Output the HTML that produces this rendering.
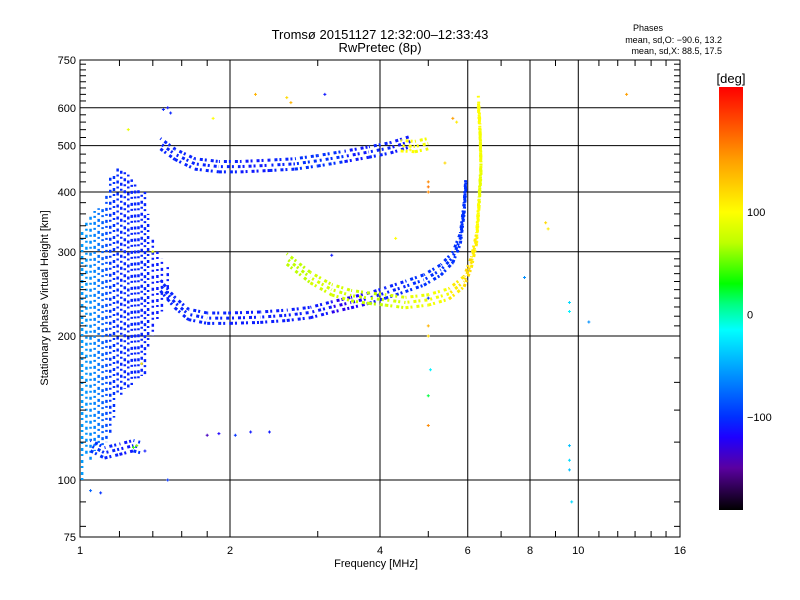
<!DOCTYPE html>
<html><head><meta charset="utf-8"><style>
body{margin:0;background:#fff;}
svg{display:block;font-family:"Liberation Sans",sans-serif;}
</style></head><body>
<svg id="c" width="800" height="600" xmlns="http://www.w3.org/2000/svg">
<rect width="800" height="600" fill="#fff"/>
<text x="380" y="39" font-size="13" text-anchor="middle">Tromsø 20151127 12:32:00–12:33:43</text>
<text x="380" y="52" font-size="13" text-anchor="middle">RwPretec (8p)</text>
<text x="648" y="31" font-size="9" text-anchor="middle">Phases</text>
<text x="722" y="43" font-size="9" text-anchor="end">mean, sd,O: −90.6, 13.2</text>
<text x="722" y="54" font-size="9" text-anchor="end">mean, sd,X:  88.5, 17.5</text>
<text x="376" y="567" font-size="11" text-anchor="middle">Frequency [MHz]</text>
<text transform="translate(48,298) rotate(-90)" font-size="11" text-anchor="middle">Stationary phase Virtual Height [km]</text>
<g id="grid"></g><g id="marks"></g><g id="axes"></g><g id="cbar"></g>
</svg>
<script>
const cloudF=[1.01,1.03,1.05,1.07,1.09,1.11,1.13,1.15,1.17,1.19,1.21,1.23,1.25,1.27,1.29,1.31,1.33,1.35,1.37,1.40,1.43,1.46,1.50];
const cloudLo=[100,112,110,115,118,118,120,125,135,150,150,155,155,158,160,162,165,165,190,200,215,225,235];
const cloudHi=[330,345,360,365,370,375,400,430,440,450,445,440,435,425,420,410,400,400,360,320,300,290,280];
const cloudPh=[-55,-58,-62,-66,-72,-80,-90,-98,-100,-102,-104,-104,-105,-105,-105,-105,-105,-105,-105,-108,-108,-108,-108];
const tailF=[1.05,1.12,1.2,1.28,1.32];
const tailH=[118,114,116,118,117];
const tailP=[-100,-105,-110,-100,-90];
const tr1F=[1.45,1.55,1.65,1.8,2.0,2.3,2.6,2.9,3.2,3.5,3.8,4.1,4.5,4.9,5.3,5.6,5.8,5.9,5.95];
const tr1H=[255,235,222,218,218,219,221,224,230,235,240,246,254,262,275,292,320,370,420];
const tr1P=[-105,-105,-105,-105,-108,-108,-108,-110,-125,-120,-108,-105,-100,-100,-100,-100,-100,-100,-100];
const tr2F=[2.6,2.9,3.2,3.5,3.8,4.1,4.5,5.0,5.5,5.9,6.1,6.25,6.32,6.38,6.35,6.3];
const tr2H=[290,265,250,243,240,238,235,238,245,260,285,320,380,450,540,620];
const tr2P=[70,80,80,75,70,80,90,95,110,120,110,100,90,95,100,100];
const tr3F=[1.45,1.55,1.7,1.9,2.1,2.4,2.7,3.0,3.4,3.8,4.2,4.6];
const tr3H=[505,480,458,452,452,455,458,465,475,485,495,510];
const tr3P=[-105,-105,-105,-105,-110,-105,-100,-100,-110,-105,-110,-105];
const tr4F=[4.4,4.7,5.0];
const tr4H=[500,498,505];
const tr4P=[100,95,110];
const ptF=[1.3,1.28,1.33,1.5,1.85,2.25,2.6,2.65,3.1,3.2,5.0,5.0,5.0,5.0,5.0,5.0,5.05,5.0,5.0,8.6,8.7,9.6,9.6,9.6,9.6,9.6,9.7,10.5,7.8,12.5,1.35,1.9,1.8,2.05,2.2,2.4,1.5,1.4,1.05,1.1,5.4,4.6,5.6,5.7,4.3,1.47,1.52,1.25];
const ptH=[118,117,175,600,570,640,630,615,640,295,420,410,400,240,210,200,170,150,130,345,335,235,225,118,110,105,90,214,265,640,115,125,124,124,126,126,100,300,95,94,460,490,570,560,320,595,585,540];
const ptP=[60,40,110,-110,100,140,120,140,-110,-110,160,170,160,-100,140,120,-20,20,160,120,110,-30,-20,-40,-30,-40,-30,-60,-60,150,-110,-120,-140,-100,-110,-110,-100,90,-80,-100,120,100,150,110,100,-105,-105,90];

const NS='http://www.w3.org/2000/svg';
const X0=80,PXO=144,Y100=480;
function xs(f){return X0+150*Math.log2(f);}
function ys(h){return Y100-PXO*Math.log2(h/100);}
const stops=[[-191,[0,0,0]],[-150,[90,0,160]],[-120,[30,0,255]],[-100,[0,48,255]],[-60,[0,144,255]],[-15,[0,255,255]],[10,[0,255,128]],[30,[0,255,0]],[70,[190,255,0]],[100,[255,255,0]],[150,[255,160,0]],[222,[255,0,0]]];
function col(p){if(p<=stops[0][0])return 'rgb(0,0,0)';for(let i=1;i<stops.length;i++){if(p<=stops[i][0]){const a=stops[i-1],b=stops[i],t=(p-a[0])/(b[0]-a[0]);return 'rgb('+a[1].map((v,k)=>Math.round(v+(b[1][k]-v)*t)).join(',')+')';}}return 'rgb(255,0,0)';}
function mk(tag,at,parent){const e=document.createElementNS(NS,tag);for(const k in at)e.setAttribute(k,at[k]);parent.appendChild(e);return e;}
const G=document.getElementById('grid'),M=document.getElementById('marks'),A=document.getElementById('axes'),CB=document.getElementById('cbar');
[2,4,6,8,10].forEach(f=>{const l=mk('line',{x1:xs(f),x2:xs(f),y1:60,y2:537,stroke:'#000','stroke-width':1},G);

});
[100,200,300,400,500,600].forEach(h=>{const l=mk('line',{x1:80,x2:680,y1:ys(h),y2:ys(h),stroke:'#000','stroke-width':1},G);

});
cloudF.forEach((f,i)=>{const l=mk('line',{x1:xs(f),x2:xs(f),y1:ys(cloudLo[i]),y2:ys(cloudHi[i]),stroke:col(cloudPh[i]),'stroke-width':2.5,'stroke-dasharray':'2 3 3 4','stroke-dashoffset':(i*2.3)%12},M);

});
const SPREAD=[0.975,1,1.025];
function trace(F,H,P,name,w){SPREAD.forEach((k,j)=>{for(let i=0;i<F.length-1;i++){const l=mk('line',{x1:xs(F[i]),x2:xs(F[i+1]),y1:ys(H[i]*k),y2:ys(H[i+1]*k),stroke:col(P[i]),'stroke-width':w,'stroke-dasharray':'3 2 2 4','stroke-dashoffset':j*3},M);

}});}
trace(tailF,tailH,tailP,'low-echo-trace',3);
trace(tr1F,tr1H,tr1P,'o-mode-trace',3);
trace(tr2F,tr2H,tr2P,'x-mode-trace',3);
trace(tr3F,tr3H,tr3P,'upper-trace',3);
trace(tr4F,tr4H,tr4P,'upper-x-trace',3);
ptF.forEach((f,i)=>{const x=xs(f),y=ys(ptH[i]);const p=mk('path',{d:`M${x-1.5},${y}h3M${x},${y-1.5}v3`,stroke:col(ptP[i]),'stroke-width':1},M);

});
const fr=mk('rect',{x:80,y:60,width:600,height:477,fill:'none',stroke:'#000','stroke-width':1},A);


const minorF=[1.2,1.4,1.6,1.8,3,5,7,9,11,12,13,14,15];
minorF.forEach(f=>{mk('line',{x1:xs(f),x2:xs(f),y1:537,y2:531,stroke:'#000'},A);mk('line',{x1:xs(f),x2:xs(f),y1:60,y2:66,stroke:'#000'},A);});
const minorH=[80,90,120,140,160,180,210,220,230,240,250,260,270,280,290,320,340,360,380,420,440,460,480,520,540,560,580,620,640,660,680,700,720,740];
minorH.forEach(h=>{mk('line',{x1:80,x2:86,y1:ys(h),y2:ys(h),stroke:'#000'},A);mk('line',{x1:674,x2:680,y1:ys(h),y2:ys(h),stroke:'#000'},A);});
const xTicks=[1,2,4,6,8,10,16];
xTicks.forEach(f=>{const t=mk('text',{x:xs(f),y:554,'font-size':11,'text-anchor':'middle'},A);t.textContent=f;

});
const yTicks=[75,100,200,300,400,500,600,750];
yTicks.forEach(h=>{const y=h==75?537:h==750?60:ys(h);const t=mk('text',{x:76,y:y+4,'font-size':11,'text-anchor':'end'},A);t.textContent=h;

});
const defs=mk('defs',{},CB);const lg=mk('linearGradient',{id:'cg',x1:0,y1:0,x2:0,y2:1},defs);
const PT=222,PB=-191;
stops.slice().reverse().forEach(s=>mk('stop',{offset:(PT-s[0])/(PT-PB),'stop-color':`rgb(${s[1].join(',')})`},lg));
const cr=mk('rect',{x:719,y:87,width:24,height:423,fill:'url(#cg)'},CB);


const cbt=mk('text',{x:731,y:83,'font-size':13,'text-anchor':'middle'},CB);cbt.textContent='[deg]';


const cbTicks=[100,0,-100];
cbTicks.forEach(p=>{const y=87+(PT-p)/(PT-PB)*423;const t=mk('text',{x:747,y:y+4,'font-size':11},CB);t.textContent=p==-100?'−100':p;

});
</script>
</body></html>
